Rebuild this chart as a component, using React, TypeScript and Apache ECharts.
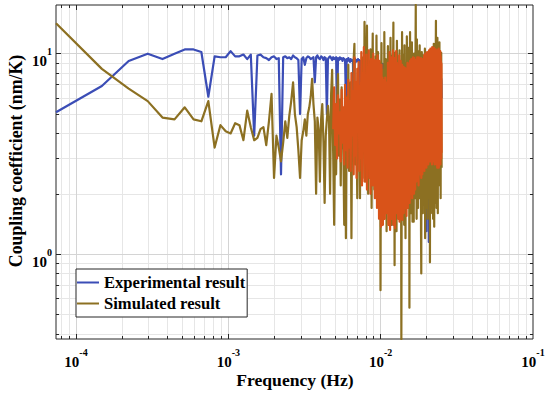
import React, { useEffect, useRef } from 'react';
import * as echarts from 'echarts';

const FONT = "'Liberation Serif', 'Times New Roman', serif";

// frequency resolution (first FFT bin), Hz
const DF = 7.39e-5;
const X_MIN = 7.39e-5;
const X_MAX = 0.1;
const Y_MIN = 0.377;
const Y_MAX = 17.5;
const X_MAJOR = [1e-4, 1e-3, 1e-2];
const Y_MAJOR = [1, 10];
const DENSE_FIRST_BIN = 66;

const SERIES_NAMES = ['Experimental result', 'Simulated result'];

// bins k = 1..340
const experimental = [
  5.1, 6.9, 9.2, 10.0, 9.4, 10.0, 10.5, 10.5, 10.2, 6.1,
  9.7, 9.6, 9.6, 10.3, 9.7, 9.7, 9.9, 9.4, 9.9, 3.9,
  9.8, 9.9, 9.6, 9.5, 9.3, 9.6, 9.7, 9.4, 9.5, 2.5,
  9.6, 9.7, 9.5, 9.6, 9.4, 9.8, 9.6, 9.5, 9.3, 5.0,
  9.4, 9.6, 8.8, 9.5, 9.7, 9.6, 9.4, 9.5, 9.6, 7.2,
  9.6, 9.8, 9.5, 9.4, 9.7, 9.6, 9.3, 9.6, 9.5, 5.0,
  9.4, 9.6, 9.7, 9.5, 9.3, 9.6, 9.4, 9.5, 9.6, 5.2,
  9.5, 9.3, 9.6, 9.4, 9.5, 9.2, 9.5, 9.4, 9.3, 5.8,
  9.4, 9.2, 9.5, 9.3, 9.1, 9.4, 9.2, 9.3, 9.1, 4.5,
  9.3, 9.4, 9.1, 9.3, 9.2, 9.4, 9.1, 9.3, 9.2, 3.8,
  9.2, 9.1, 9.3, 9.0, 9.2, 9.1, 8.9, 9.2, 9.0, 3.2,
  9.1, 8.9, 9.2, 9.0, 8.8, 9.1, 8.9, 9.0, 8.8, 2.8,
  9.0, 8.9, 8.7, 9.0, 8.8, 8.9, 8.7, 8.9, 8.8, 2.4,
  8.9, 8.7, 9.0, 8.8, 8.9, 8.7, 8.8, 8.6, 8.9, 1.8,
  8.8, 8.6, 8.9, 8.7, 8.5, 8.8, 8.6, 8.7, 8.5, 2.2,
  8.7, 8.5, 8.8, 8.6, 8.4, 8.7, 8.5, 8.6, 8.4, 1.4,
  8.6, 8.4, 8.7, 8.5, 8.3, 8.6, 8.4, 8.5, 8.3, 2.0,
  8.5, 8.3, 8.6, 8.4, 8.2, 8.5, 8.3, 8.4, 8.2, 2.6,
  8.4, 8.2, 8.5, 8.3, 8.1, 8.4, 8.2, 8.3, 8.1, 2.1,
  8.3, 8.1, 8.4, 8.2, 8.0, 8.3, 8.1, 8.2, 8.0, 2.9,
  8.2, 8.0, 8.3, 8.1, 7.9, 8.2, 8.0, 8.1, 7.9, 2.3,
  8.2, 8.0, 8.3, 8.1, 7.9, 8.2, 8.0, 8.1, 7.9, 3.0,
  8.1, 7.9, 8.2, 8.0, 7.8, 8.1, 7.9, 8.0, 7.8, 2.5,
  8.1, 7.9, 8.2, 8.0, 7.8, 8.1, 7.9, 8.0, 7.8, 3.2,
  8.0, 7.8, 8.1, 7.9, 7.7, 8.0, 7.8, 7.9, 7.7, 2.7,
  8.0, 7.8, 8.1, 7.9, 7.7, 8.0, 7.8, 7.9, 7.7, 2.0,
  7.9, 7.7, 8.0, 7.8, 7.6, 7.9, 7.7, 7.8, 7.6, 1.3,
  7.9, 7.7, 8.0, 7.8, 7.6, 7.9, 7.7, 7.8, 7.6, 1.15,
  7.8, 7.6, 7.9, 7.7, 7.5, 7.8, 7.6, 7.7, 7.5, 2.4,
  7.8, 7.6, 7.9, 7.7, 7.5, 7.8, 7.6, 7.7, 7.5, 2.8,
  7.7, 7.5, 7.8, 7.6, 7.4, 7.7, 7.5, 7.6, 7.4, 3.0,
  7.7, 7.5, 7.8, 7.6, 7.4, 7.7, 7.5, 7.6, 7.4, 3.4,
  7.6, 7.4, 7.7, 7.5, 7.3, 7.6, 7.4, 7.5, 7.3, 3.5,
  7.6, 7.4, 7.7, 7.5, 7.3, 7.6, 7.4, 7.5, 7.3, 6.0,
];

// bins k = 1..340
const simulated = [
  14.2, 8.4, 6.7, 5.8, 4.8, 4.7, 5.4, 4.7, 4.6, 5.8,
  3.4, 4.4, 4.1, 4.0, 4.5, 4.4, 3.7, 5.2, 4.3, 3.7,
  3.8, 4.2, 4.3, 3.5, 4.6, 6.3, 2.4, 3.9, 3.4, 2.9,
  3.6, 4.6, 3.8, 4.9, 5.8, 7.2, 5.0, 4.3, 3.3, 2.4,
  3.7, 4.1, 4.7, 3.9, 5.0, 5.4, 6.1, 7.5, 5.6, 4.6,
  2.0, 4.8, 4.2, 2.3, 4.7, 5.6, 3.6, 1.8, 3.9, 4.7,
  5.5, 4.6, 2.0, 6.3, 8.3, 3.2, 1.4, 4.6, 2.5, 5.7,
  7.9, 3.1, 5.9, 2.2, 6.8, 4.0, 3.3, 1.4, 5.5, 1.2,
  6.1, 3.5, 8.8, 2.6, 4.9, 7.2, 1.2, 5.6, 3.0, 9.4,
  11.2, 2.8, 6.4, 4.3, 1.9, 8.1, 3.6, 5.3, 1.9, 7.0,
  4.2, 9.6, 2.4, 6.0, 3.2, 14.4, 5.1, 2.3, 7.7, 13.8,
  3.9, 2.0, 9.1, 5.5, 2.7, 10.5, 4.4, 1.7, 6.8, 12.6,
  3.3, 8.9, 2.1, 5.8, 9.7, 3.0, 12.3, 4.9, 1.9, 10.2,
  2.6, 7.4, 3.8, 9.0, 0.66, 5.2, 11.3, 2.2, 6.5, 3.5,
  8.3, 1.6, 12.8, 4.1, 2.9, 9.4, 5.7, 1.3, 7.9, 3.2,
  10.9, 2.5, 6.1, 1.5, 8.7, 4.6, 12.0, 2.1, 5.4, 1.4,
  9.8, 3.7, 7.2, 14.3, 1.8, 6.3, 0.88, 10.1, 4.0, 2.4,
  8.5, 1.3, 11.6, 5.0, 2.8, 9.2, 1.6, 6.7, 3.5, 10.4,
  1.9, 6.4, 7.5, 4.4, 0.377, 2.3, 12.8, 1.5, 5.9, 9.9,
  2.7, 6.6, 1.4, 11.0, 3.8, 7.7, 1.2, 9.0, 4.8, 2.1,
  12.2, 5.5, 1.7, 8.4, 3.1, 10.7, 2.0, 6.4, 0.54, 7.1,
  12.8, 3.6, 1.6, 9.3, 5.0, 2.4, 11.4, 4.1, 1.45, 8.6,
  3.4, 6.9, 1.45, 10.0, 4.5, 2.2, 7.8, 1.9, 9.5, 17.5,
  3.0, 5.6, 1.5, 11.8, 4.3, 2.6, 8.3, 1.7, 6.2, 3.9,
  10.3, 2.3, 7.0, 11.0, 1.9, 5.3, 3.2, 9.1, 1.3, 0.8,
  6.6, 10.2, 2.8, 4.9, 8.0, 1.6, 3.7, 9.8, 2.4, 6.0,
  1.8, 7.4, 3.3, 10.6, 1.2, 5.7, 8.9, 2.1, 4.4, 9.5,
  1.7, 6.3, 3.0, 10.0, 1.5, 7.6, 2.6, 5.1, 9.2, 1.9,
  4.2, 8.5, 2.2, 6.1, 0.91, 7.9, 3.6, 9.7, 1.6, 5.4,
  8.8, 2.7, 4.6, 10.4, 1.9, 6.5, 3.4, 9.0, 1.5, 7.2,
  2.9, 11.2, 5.0, 1.37, 8.1, 3.8, 10.5, 2.4, 6.7, 1.8,
  9.3, 14.6, 3.2, 7.4, 1.7, 5.9, 9.8, 2.5, 12.0, 4.3,
  1.6, 8.6, 3.7, 10.8, 2.2, 6.9, 9.1, 2.7, 11.4, 3.1,
  7.8, 2.4, 9.6, 4.0, 1.9, 8.2, 3.5, 10.1, 5.2, 2.7,
];

// third (unlabelled) curve, bins k = 66..340
const simulatedDense = [
  4.2, 6.8, 3.5, 5.6, 3.0,
  6.2, 4.0, 5.1, 2.9, 6.6, 3.6, 5.4, 2.8, 7.0, 3.3,
  6.0, 2.7, 7.4, 3.4, 5.8, 2.6, 8.0, 3.9, 6.5, 2.5,
  9.6, 3.1, 7.2, 2.4, 8.4, 4.5, 9.1, 2.6, 6.9, 3.0,
  10.2, 2.2, 8.0, 4.1, 10.8, 2.3, 7.5, 3.6, 9.9, 2.1,
  8.6, 3.3, 10.4, 2.4, 7.9, 2.0, 9.4, 3.8, 6.7, 2.2,
  10.0, 2.9, 8.2, 1.9, 9.3, 3.5, 7.0, 1.7, 9.8, 2.6,
  8.1, 1.5, 9.2, 3.1, 6.4, 1.37, 8.8, 2.4, 7.6, 1.4,
  7.4, 2.0, 6.9, 1.5, 7.6, 3.2, 6.1, 1.6, 7.2, 2.3,
  9.0, 1.4, 8.3, 2.8, 10.2, 1.32, 7.7, 3.5, 9.6, 1.5,
  8.4, 2.1, 10.4, 1.4, 7.9, 3.0, 9.5, 1.35, 8.8, 2.5,
  10.3, 1.6, 9.0, 3.3, 7.4, 1.5, 8.6, 2.2, 9.8, 1.45,
  8.0, 2.7, 9.2, 1.5, 7.5, 3.4, 8.8, 1.48, 7.9, 2.0,
  8.6, 1.6, 7.8, 3.1, 8.5, 1.7, 7.3, 2.4, 8.4, 1.55,
  8.1, 2.9, 9.0, 1.7, 7.7, 3.5, 8.9, 2.0, 7.6, 1.8,
  9.2, 2.6, 8.3, 2.0, 9.4, 3.3, 7.8, 1.9, 8.9, 2.2,
  9.6, 2.8, 8.0, 2.0, 9.5, 3.6, 8.6, 2.1, 9.3, 2.5,
  9.0, 2.3, 8.1, 3.4, 9.6, 2.4, 7.9, 2.6, 9.2, 2.2,
  9.6, 3.0, 8.4, 2.5, 9.1, 3.8, 7.8, 2.6, 9.5, 2.4,
  8.7, 3.3, 9.4, 2.5, 8.2, 3.7, 9.0, 2.7, 8.5, 3.1,
  9.8, 2.6, 8.8, 3.5, 10.0, 2.8, 8.3, 3.2, 9.6, 2.7,
  9.1, 3.4, 10.2, 2.9, 8.7, 3.0, 9.9, 2.8, 9.3, 3.6,
  10.4, 3.0, 8.9, 3.3, 9.7, 2.9, 10.6, 3.4, 9.0, 2.9,
  10.1, 3.2, 9.4, 2.8, 10.8, 3.5, 9.2, 3.0, 10.3, 2.9,
  9.8, 3.3, 10.7, 3.0, 9.5, 2.8, 10.2, 3.4, 9.4, 2.9,
  10.5, 3.1, 9.6, 2.8, 10.1, 3.3, 9.7, 2.7, 10.4, 3.0,
  9.9, 2.8, 9.0, 3.2, 10.6, 2.7, 8.6, 3.3, 10.0, 2.9,
  9.4, 3.1, 10.3, 2.8, 9.7, 3.4, 9.1, 3.0, 8.9, 3.2,
];

const COLORS = { exp: '#3B4DB6', sim: '#8C7022', dense: '#D95319' };

function minorValues(lo: number, hi: number, eFrom: number, eTo: number) {
  const out: number[] = [];
  for (let e = eFrom; e <= eTo; e++) {
    for (let m = 2; m <= 9; m++) {
      const v = m * Math.pow(10, e);
      if (v > lo && v < hi) out.push(v);
    }
  }
  return out;
}

function powLabel(v: number) {
  const e = Math.log10(v);
  const r = Math.round(e);
  if (Math.abs(e - r) > 1e-6) return '';
  return `{b|10}{s|${r}}`;
}

export default function App() {
  const ref = useRef<HTMLDivElement>(null);
  useEffect(() => {
    document.body.style.margin = '0';
    const chart = echarts.init(ref.current!, null, { renderer: 'svg' });

    const xMinor = minorValues(X_MIN, X_MAX, -5, -2);
    const yMinor = minorValues(Y_MIN, Y_MAX, -1, 1);
    const gridMinor = { color: '#e6e6e6', width: 1, type: 'solid' };
    const gridMajor = { color: '#d4d4d4', width: 1, type: 'solid' };
    const tickStyle = { color: '#262626', width: 1, type: 'solid' };

    const lines: any[] = [];
    xMinor.forEach((v) => lines.push([{ coord: [v, Y_MIN], lineStyle: gridMinor }, { coord: [v, Y_MAX] }]));
    yMinor.forEach((v) => lines.push([{ coord: [X_MIN, v], lineStyle: gridMinor }, { coord: [X_MAX, v] }]));
    X_MAJOR.forEach((v) => lines.push([{ coord: [v, Y_MIN], lineStyle: gridMajor }, { coord: [v, Y_MAX] }]));
    Y_MAJOR.forEach((v) => lines.push([{ coord: [X_MIN, v], lineStyle: gridMajor }, { coord: [X_MAX, v] }]));
    // tick marks (inside, on all four sides)
    const xt = (v: number, dec: number) => {
      lines.push([{ coord: [v, Y_MIN], lineStyle: tickStyle }, { coord: [v, Y_MIN * Math.pow(10, dec)] }]);
      lines.push([{ coord: [v, Y_MAX], lineStyle: tickStyle }, { coord: [v, Y_MAX / Math.pow(10, dec)] }]);
    };
    const yt = (v: number, dec: number) => {
      lines.push([{ coord: [X_MIN, v], lineStyle: tickStyle }, { coord: [X_MIN * Math.pow(10, dec), v] }]);
      lines.push([{ coord: [X_MAX, v], lineStyle: tickStyle }, { coord: [X_MAX / Math.pow(10, dec), v] }]);
    };
    xMinor.forEach((v) => xt(v, 0.015));
    X_MAJOR.forEach((v) => xt(v, 0.025));
    yMinor.forEach((v) => yt(v, 0.02));
    Y_MAJOR.forEach((v) => yt(v, 0.033));

    const rich = (bOpts: any, sOpts: any) => ({
      b: { fontFamily: FONT, fontWeight: 'bold', fontSize: 15, color: '#000', ...bOpts },
      s: { fontFamily: FONT, fontWeight: 'bold', fontSize: 10, color: '#000', ...sOpts },
    });

    const option: any = {
      animation: false,
      backgroundColor: '#fff',
      grid: {
        left: 56, right: 17, top: 5, bottom: 58,
        show: true, borderColor: '#262626', borderWidth: 1, backgroundColor: 'transparent',
      },
      xAxis: {
        type: 'log', logBase: 10, min: X_MIN, max: X_MAX,
        axisLine: { show: false }, axisTick: { show: false }, splitLine: { show: false },
        axisLabel: {
          margin: 8,
          formatter: powLabel,
          rich: rich({ lineHeight: 22, verticalAlign: 'bottom' }, { lineHeight: 8, verticalAlign: 'top' }),
        },
      },
      yAxis: {
        type: 'log', logBase: 10, min: Y_MIN, max: Y_MAX,
        axisLine: { show: false }, axisTick: { show: false }, splitLine: { show: false },
        axisLabel: {
          margin: 4,
          padding: [8, 0, 0, 0],
          formatter: powLabel,
          rich: rich({ lineHeight: 22, verticalAlign: 'bottom' }, { lineHeight: 8, verticalAlign: 'top' }),
        },
      },
      legend: {
        data: SERIES_NAMES.map((name) => ({ name, icon: 'rect' })),
        orient: 'vertical',
        left: 76, top: 269,
        itemWidth: 22, itemHeight: 2, itemGap: 4,
        padding: [5, 2, 5, 1],
        borderColor: '#262626', borderWidth: 1, borderRadius: 0,
        backgroundColor: '#fff',
        textStyle: { fontFamily: FONT, fontWeight: 'bold', fontSize: 16.6, lineHeight: 14, color: '#000' },
      },
      graphic: [
        {
          type: 'text', x: 16, y: 161, rotation: Math.PI / 2,
          style: {
            text: 'Coupling coefficient (nm/K)', fill: '#000',
            font: `bold 17.8px ${FONT}`, align: 'center', verticalAlign: 'middle',
          },
        },
        {
          type: 'text', x: 295, y: 380,
          style: {
            text: 'Frequency (Hz)', fill: '#000',
            font: `bold 17.6px ${FONT}`, align: 'center', verticalAlign: 'middle',
          },
        },
      ],
      series: [
        {
          name: '__grid', type: 'line', data: [], silent: true, z: 1,
          markLine: { silent: true, z: 1, symbol: ['none', 'none'], label: { show: false }, emphasis: { disabled: true }, data: lines },
        },
        {
          name: SERIES_NAMES[0], type: 'line', symbol: 'none', z: 2, clip: true,
          color: COLORS.exp,
          lineStyle: { color: COLORS.exp, width: 2.2, join: 'round' },
          data: experimental.map((v, i) => [(i + 1) * DF, v]),
        },
        {
          name: SERIES_NAMES[1], type: 'line', symbol: 'none', z: 3, clip: true,
          color: COLORS.sim,
          lineStyle: { color: COLORS.sim, width: 2.2, join: 'round' },
          data: simulated.map((v, i) => [(i + 1) * DF, v]),
        },
        {
          name: '__dense', type: 'line', symbol: 'none', z: 4, clip: true,
          color: COLORS.dense,
          lineStyle: { color: COLORS.dense, width: 2.2, join: 'round' },
          data: simulatedDense.map((v, i) => [(i + DENSE_FIRST_BIN) * DF, v]),
        },
      ],
    };
    chart.setOption(option);
    return () => chart.dispose();
  }, []);
  return <div ref={ref} style={{ width: 550, height: 397 }} />;
}
